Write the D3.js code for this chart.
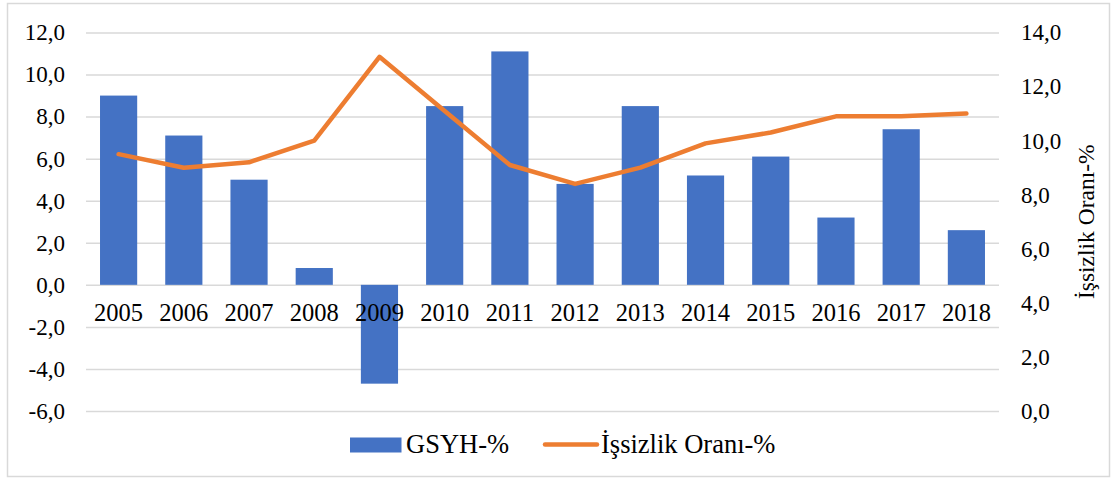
<!DOCTYPE html>
<html>
<head>
<meta charset="utf-8">
<script src="https://cdn.jsdelivr.net/npm/d3@7"></script>
<style>
  body { margin: 0; background: #fff; }
  text { font-family: "Liberation Serif", "Times New Roman", serif; fill: #000; }
</style>
</head>
<body>
<svg id="chart" width="1112" height="480"></svg>
<script>
// veriler
const years = ['2005', '2006', '2007', '2008', '2009', '2010', '2011', '2012', '2013', '2014', '2015', '2016', '2017', '2018']
const gsyh = [9.0, 7.1, 5.0, 0.8, -4.7, 8.5, 11.1, 4.8, 8.5, 5.2, 6.1, 3.2, 7.4, 2.6]
const issizlik = [9.5, 9.0, 9.2, 10.0, 13.1, 11.1, 9.1, 8.4, 9.0, 9.9, 10.3, 10.9, 10.9, 11.0]
const leftTicks = [-6, -4, -2, 0, 2, 4, 6, 8, 10, 12]
const rightTicks = [0, 2, 4, 6, 8, 10, 12, 14]

const svg = d3.select('#chart')
const margin = {top: 32.5, left: 86, right: 999, bottom: 411}
const fontTick = 23
const fontCat = 24.5
const fontLegend = 26.5

// çerçeve
svg.append('rect')
  .attr('x', 7.5).attr('y', 3.5)
  .attr('width', 1102).attr('height', 473)
  .attr('fill', '#fff')
  .attr('stroke', '#D9D9D9')
  .attr('stroke-width', 1.5)

const x = d3.scaleBand()
  .domain(years)
  .range([margin.left, margin.right])
  .paddingInner(0.43)
  .paddingOuter(0.215)

const yL = d3.scaleLinear().domain([-6, 12]).range([margin.bottom, margin.top])
const yR = d3.scaleLinear().domain([0, 14]).range([margin.bottom, margin.top])

// 12,0 / -2,0 biçimi
const fmt = v => d3.format('.1f')(v).replace('.', ',').replace('\u2212', '-')

// sol eksen + ızgara
const gL = svg.append('g')
  .attr('transform', 'translate(' + margin.left + ',0)')
  .call(d3.axisLeft(yL).tickValues(leftTicks).tickFormat(fmt).tickSize(0).tickPadding(21))
gL.select('.domain').remove()
gL.selectAll('.tick text').attr('font-size', fontTick).style('font-family', '"Liberation Serif", serif')
gL.selectAll('.tick')
  .append('line')
  .attr('x1', 0)
  .attr('x2', margin.right - margin.left)
  .attr('stroke', '#D9D9D9')
  .attr('stroke-width', 1.5)

// sağ eksen
const gR = svg.append('g')
  .attr('transform', 'translate(' + margin.right + ',0)')
  .call(d3.axisRight(yR).tickValues(rightTicks).tickFormat(fmt).tickSize(0).tickPadding(22))
gR.select('.domain').remove()
gR.selectAll('.tick text').attr('font-size', fontTick).style('font-family', '"Liberation Serif", serif')

// çubuklar
svg.append('g')
  .selectAll('rect')
  .data(gsyh)
  .enter()
  .append('rect')
  .attr('x', (d, i) => x(years[i]))
  .attr('width', x.bandwidth())
  .attr('y', d => yL(Math.max(0, d)))
  .attr('height', d => Math.abs(yL(d) - yL(0)))
  .attr('fill', '#4472C4')

// kategori etiketleri
svg.append('g')
  .selectAll('text')
  .data(years)
  .enter()
  .append('text')
  .attr('x', d => x(d) + x.bandwidth() / 2)
  .attr('y', 321)
  .attr('text-anchor', 'middle')
  .attr('font-size', fontCat)
  .text(d => d)

// çizgi
const line = d3.line()
  .x((d, i) => x(years[i]) + x.bandwidth() / 2)
  .y(d => yR(d))

svg.append('path')
  .datum(issizlik)
  .attr('d', line)
  .attr('fill', 'none')
  .attr('stroke', '#ED7D31')
  .attr('stroke-width', 4.5)
  .attr('stroke-linejoin', 'round')
  .attr('stroke-linecap', 'round')

// sağ eksen başlığı
svg.append('text')
  .attr('transform', 'translate(1094,' + ((margin.top + margin.bottom) / 2) + ') rotate(-90)')
  .attr('text-anchor', 'middle')
  .attr('font-size', 23.5)
  .text('İşsizlik Oranı-%')

// lejant
const lg = svg.append('g')
lg.append('rect')
  .attr('x', 350).attr('y', 437.5)
  .attr('width', 51.5).attr('height', 15)
  .attr('fill', '#4472C4')
lg.append('text')
  .attr('x', 406).attr('y', 453)
  .attr('font-size', fontLegend)
  .text('GSYH-%')
lg.append('line')
  .attr('x1', 545).attr('x2', 597)
  .attr('y1', 444.5).attr('y2', 444.5)
  .attr('stroke', '#ED7D31')
  .attr('stroke-width', 4.5)
  .attr('stroke-linecap', 'round')
lg.append('text')
  .attr('x', 601).attr('y', 453)
  .attr('font-size', fontLegend)
  .text('İşsizlik Oranı-%')
</script>
</body>
</html>
